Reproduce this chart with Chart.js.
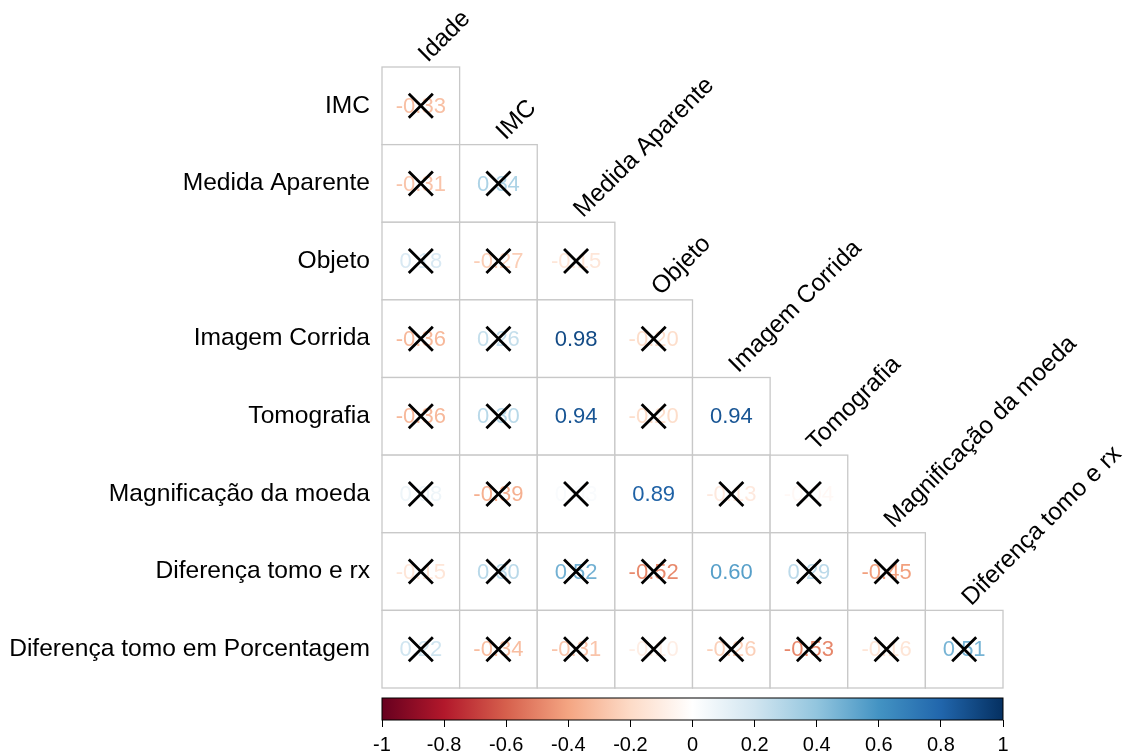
<!DOCTYPE html>
<html>
<head>
<meta charset="utf-8">
<script src="https://cdn.jsdelivr.net/npm/chart.js@4"></script>
<style>
  html, body { margin: 0; padding: 0; background: #ffffff; }
  canvas { display: block; }
</style>
</head>
<body>
<canvas id="c" width="1124" height="755"></canvas>
<script>
// ---------- data ----------
const rowLabels = ["IMC", "Medida Aparente", "Objeto", "Imagem Corrida", "Tomografia",
  "Magnificação da moeda", "Diferença tomo e rx", "Diferença tomo em Porcentagem"];
const colLabels = ["Idade", "IMC", "Medida Aparente", "Objeto", "Imagem Corrida",
  "Tomografia", "Magnificação da moeda", "Diferença tomo e rx"];

const corrIMC     = [-0.33];
const corrMedida  = [-0.31, 0.34];
const corrObjeto  = [0.18, -0.27, -0.15];
const corrImagem  = [-0.36, 0.26, 0.98, -0.20];
const corrTomo    = [-0.36, 0.30, 0.94, -0.20, 0.94];
const corrMagn    = [0.08, -0.39, 0.03, 0.89, -0.13, -0.04];
const corrDifRx   = [-0.15, 0.30, 0.52, -0.52, 0.60, 0.29, -0.45];
const corrDifPct  = [0.22, -0.34, -0.31, -0.10, -0.26, -0.53, -0.16, 0.51];

// 1 = significant (no cross), 0 = not significant (crossed)
const sigIMC    = [0];
const sigMedida = [0, 0];
const sigObjeto = [0, 0, 0];
const sigImagem = [0, 0, 1, 0];
const sigTomo   = [0, 0, 1, 0, 1];
const sigMagn   = [0, 0, 0, 1, 0, 0];
const sigDifRx  = [0, 0, 0, 0, 1, 0, 0];
const sigDifPct = [0, 0, 0, 0, 0, 0, 0, 0];

const colorbarTicks = [-1, -0.8, -0.6, -0.4, -0.2, 0, 0.2, 0.4, 0.6, 0.8, 1];
const paletteRdBu = ["#67001F", "#B2182B", "#D6604D", "#F4A582", "#FDDBC7", "#FFFFFF",
  "#D1E5F0", "#92C5DE", "#4393C3", "#2166AC", "#053061"];

const corrRows = [corrIMC, corrMedida, corrObjeto, corrImagem, corrTomo, corrMagn, corrDifRx, corrDifPct];
const sigRows = [sigIMC, sigMedida, sigObjeto, sigImagem, sigTomo, sigMagn, sigDifRx, sigDifPct];

// ---------- helpers ----------
function hexToRgb(h) {
  return [parseInt(h.slice(1, 3), 16), parseInt(h.slice(3, 5), 16), parseInt(h.slice(5, 7), 16)];
}
function corrColor(v) {
  const t = (v + 1) / 2 * (paletteRdBu.length - 1);
  const i = Math.max(0, Math.min(paletteRdBu.length - 2, Math.floor(t)));
  const f = t - i;
  const a = hexToRgb(paletteRdBu[i]), b = hexToRgb(paletteRdBu[i + 1]);
  const c = a.map((x, k) => Math.round(x + (b[k] - x) * f));
  return `rgb(${c[0]},${c[1]},${c[2]})`;
}

// points for crosses (non-significant cells)
const crossPoints = [];
corrRows.forEach((row, r) => row.forEach((v, c) => {
  if (!sigRows[r][c]) crossPoints.push({ x: c, y: r });
}));

const nCols = colLabels.length;
const FONT = "'Liberation Sans', Arial, sans-serif";

// ---------- plugin: cells, values, colorbar, column labels ----------
const corrPlugin = {
  id: 'corrPlugin',
  beforeDatasetsDraw(chart) {
    const { ctx } = chart;
    const xs = chart.scales.x, ys = chart.scales.y, cb = chart.scales.cb;
    ctx.save();
    // cells
    corrRows.forEach((row, r) => row.forEach((v, c) => {
      const x0 = xs.getPixelForValue(c - 0.5), x1 = xs.getPixelForValue(c + 0.5);
      const y0 = ys.getPixelForValue(r - 0.5), y1 = ys.getPixelForValue(r + 0.5);
      ctx.fillStyle = '#ffffff';
      ctx.fillRect(x0, y0, x1 - x0, y1 - y0);
      ctx.strokeStyle = '#c8c8c8';
      ctx.lineWidth = 1.3;
      ctx.strokeRect(x0, y0, x1 - x0, y1 - y0);
    }));
    // values
    ctx.font = `22px ${FONT}`;
    ctx.textAlign = 'center';
    ctx.textBaseline = 'middle';
    corrRows.forEach((row, r) => row.forEach((v, c) => {
      ctx.fillStyle = corrColor(v * 0.92);
      ctx.fillText(v.toFixed(2), xs.getPixelForValue(c), ys.getPixelForValue(r) + 1);
    }));
    // colorbar
    const left = cb.getPixelForValue(-1), right = cb.getPixelForValue(1);
    const top = ys.getPixelForValue(rowLabels.length - 0.5) + 10;
    const bottom = chart.chartArea.bottom;
    const g = ctx.createLinearGradient(left, 0, right, 0);
    paletteRdBu.forEach((col, i) => g.addColorStop(i / (paletteRdBu.length - 1), col));
    ctx.fillStyle = g;
    ctx.fillRect(left, top, right - left, bottom - top);
    ctx.strokeStyle = '#000000';
    ctx.lineWidth = 1;
    ctx.strokeRect(left, top, right - left, bottom - top);
    ctx.restore();
  },
  afterDraw(chart) {
    const { ctx } = chart;
    const xs = chart.scales.x, ys = chart.scales.y;
    ctx.save();
    ctx.font = `24.5px ${FONT}`;
    ctx.fillStyle = '#000000';
    ctx.textAlign = 'left';
    ctx.textBaseline = 'alphabetic';
    colLabels.forEach((lab, c) => {
      const px = xs.getPixelForValue(c) + 7;
      const py = ys.getPixelForValue(c - 0.5) - 4;
      ctx.save();
      ctx.translate(px, py);
      ctx.rotate(-Math.PI / 4);
      ctx.fillText(lab, 0, 0);
      ctx.restore();
    });
    ctx.restore();
  }
};

const cellPx = (1003 - 382) / nCols;
const yMax = -0.5 + (720 - 67) / cellPx;

new Chart(document.getElementById('c'), {
  type: 'scatter',
  data: {
    datasets: [{
      data: crossPoints,
      pointStyle: 'crossRot',
      radius: 17,
      hoverRadius: 17,
      borderColor: '#000000',
      borderWidth: 2.8,
      backgroundColor: '#000000'
    }]
  },
  options: {
    responsive: false,
    animation: false,
    layout: { padding: { left: 0, right: 121, top: 67, bottom: 0 } },
    plugins: { legend: { display: false }, tooltip: { enabled: false } },
    scales: {
      x: { type: 'linear', min: -0.5, max: nCols - 0.5, display: false },
      y: {
        type: 'linear', reverse: true, min: -0.5, max: yMax,
        afterBuildTicks: (s) => { s.ticks = rowLabels.map((_, i) => ({ value: i })); },
        afterFit: (s) => { s.width = 382; },
        ticks: {
          autoSkip: false,
          padding: 4,
          color: '#000000',
          font: { family: FONT, size: 24.6 },
          callback: (v) => rowLabels[v]
        },
        grid: { display: false },
        border: { display: false }
      },
      cb: {
        type: 'linear', axis: 'x', position: 'bottom', min: -1, max: 1,
        afterBuildTicks: (s) => { s.ticks = colorbarTicks.map(v => ({ value: v })); },
        afterFit: (s) => { s.height = 35; },
        ticks: {
          autoSkip: false,
          maxRotation: 0,
          padding: 6,
          color: '#000000',
          font: { family: FONT, size: 20 },
          callback: (v) => String(v)
        },
        grid: { drawOnChartArea: false, drawTicks: true, tickLength: 7, color: '#000000', lineWidth: 1 },
        border: { display: false }
      }
    }
  },
  plugins: [corrPlugin]
});
</script>
</body>
</html>
